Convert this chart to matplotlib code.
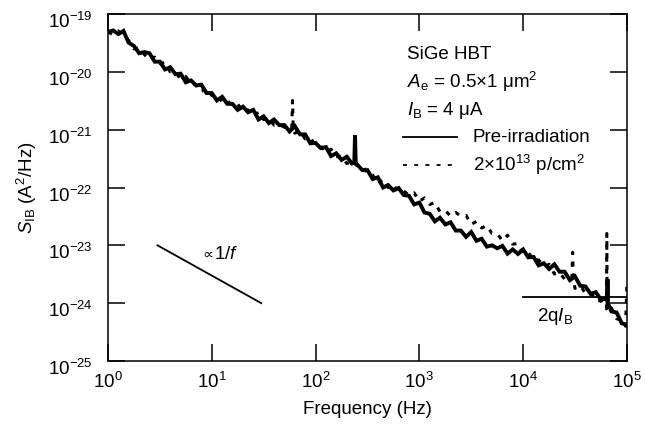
# -*- coding: utf-8 -*-
"""
SiGe HBT base current noise spectrum (pre-irradiation vs 2x10^13 p/cm^2)
"""
import matplotlib
matplotlib.use('Agg')
import matplotlib.pyplot as plt
from matplotlib.ticker import LogLocator, NullLocator
from matplotlib.transforms import ScaledTranslation

plt.rcParams['font.family'] = ['Liberation Sans', 'DejaVu Sans']
plt.rcParams['mathtext.fontset'] = 'custom'
plt.rcParams['mathtext.rm'] = 'Liberation Sans'
plt.rcParams['mathtext.it'] = 'Liberation Sans:italic'
plt.rcParams['mathtext.bf'] = 'Liberation Sans:bold'

# pre-irradiation spectrum (Hz, A^2/Hz)
freq_pre = [1, 1.12, 1.26, 1.41, 1.58, 1.78, 2.0, 2.24, 2.51, 2.82, 3.16, 3.55, 3.98, 4.47, 5.01, 5.62, 6.31, 7.08, 7.94, 8.91,
            10, 11.2, 12.6, 14.1, 15.8, 17.8, 20, 22.4, 25.1, 28.2, 31.6, 35.5, 39.8, 44.7, 50.1, 56.2, 63.1, 70.8, 79.4, 89.1,
            100, 112, 126, 141, 158, 178, 200, 224, 236, 240, 244, 251, 282, 316, 355, 398, 447, 501, 562, 631, 708, 794, 891,
            1000, 1120, 1260, 1410, 1580, 1780, 2000, 2240, 2510, 2820, 3160, 3550, 3980, 4470, 5010, 5620, 6310, 7080, 7940, 8910,
            10000, 11200, 12600, 14100, 15800, 17800, 20000, 22400, 25100, 28200, 31600, 35500, 39800, 44700, 50100, 56200, 63100,
            64500, 65000, 65500, 70800, 79400, 89100, 100000]
sib_pre = [4.9e-20, 5.2e-20, 4.5e-20, 5.1e-20, 3.2e-20, 2.8e-20, 2.1e-20, 2.2e-20, 2.1e-20, 1.5e-20,
           1.5e-20, 1.1e-20, 1.2e-20, 9.1e-21, 9.3e-21, 6.6e-21, 7.1e-21, 5.8e-21, 6.0e-21, 4.3e-21,
           4.3e-21, 3.2e-21, 3.7e-21, 2.8e-21, 2.8e-21, 2.2e-21, 2.5e-21, 2.0e-21, 2.2e-21, 1.5e-21,
           1.7e-21, 1.3e-21, 1.5e-21, 1.2e-21, 1.2e-21, 9.3e-22, 1.15e-21, 8.3e-22, 8.3e-22, 5.8e-22,
           5.9e-22, 4.8e-22, 5.0e-22, 3.5e-22, 3.9e-22, 3.0e-22, 3.4e-22, 2.6e-22,
           2.7e-22, 8.0e-22, 2.6e-22,
           2.5e-22, 2.0e-22, 2.0e-22, 1.4e-22, 1.5e-22, 1.0e-22, 1.1e-22, 8.9e-23, 9.8e-23, 7.4e-23, 7.2e-23, 5.1e-23,
           5.5e-23, 3.7e-23, 3.5e-23, 2.6e-23, 3.0e-23, 2.3e-23, 2.5e-23, 1.8e-23, 1.8e-23, 1.4e-23,
           1.7e-23, 1.2e-23, 1.3e-23, 9.5e-24, 1.0e-23, 8.9e-24, 9.8e-24, 7.2e-24, 8.5e-24, 7.1e-24,
           8.5e-24, 6.2e-24, 6.3e-24, 4.5e-24, 4.9e-24, 3.9e-24, 4.7e-24, 3.5e-24, 3.5e-24, 2.5e-24,
           2.9e-24, 2.0e-24, 1.95e-24, 1.45e-24, 1.55e-24, 1.15e-24, 1.2e-24,
           1.1e-24, 2.6e-24, 1.0e-24,
           7.2e-25, 6.9e-25, 4.5e-25, 4.2e-25]

# after 2x10^13 p/cm^2
freq_irr = [1, 1.12, 1.26, 1.41, 1.58, 1.78, 2.0, 2.24, 2.51, 2.82, 3.16, 3.55, 3.98, 4.47, 5.01, 5.62, 6.31, 7.08, 7.94, 8.91,
            10, 11.2, 12.6, 14.1, 15.8, 17.8, 20, 22.4, 25.1, 28.2, 31.6, 35.5, 39.8, 44.7, 50.1, 56.2, 59, 60, 61,
            63.1, 70.8, 79.4, 89.1, 100, 112, 126, 141, 158, 178, 200, 224, 251, 282, 316, 355, 398, 447, 501,
            562, 631, 708, 794, 891, 1000, 1120, 1260, 1410, 1580, 1780, 2000, 2240, 2510, 2820, 3160, 3550, 3980, 4470,
            5010, 5620, 6310, 7080, 7940, 8910,
            10000, 11200, 12600, 14100, 15800, 17800, 20000, 22400, 25100, 28200, 29500, 30000, 30500,
            31600, 35500, 39800, 44700, 50100, 56200, 63100, 63500, 64000, 64500, 70800, 79400, 89100, 97000, 100000]
sib_irr = [4.9e-20, 4.4e-20, 5.1e-20, 4.1e-20, 3.5e-20, 2.5e-20, 2.6e-20, 2.0e-20, 1.6e-20, 1.8e-20,
           1.4e-20, 1.45e-20, 1.0e-20, 1.0e-20, 7.4e-21, 8.3e-21, 6.2e-21, 6.0e-21, 4.6e-21, 5.1e-21,
           3.9e-21, 4.2e-21, 3.0e-21, 3.2e-21, 2.6e-21, 2.75e-21, 2.1e-21, 2.2e-21, 1.7e-21, 2.0e-21,
           1.5e-21, 1.6e-21, 1.2e-21, 1.23e-21, 1.1e-21, 1.23e-21,
           1.1e-21, 3.2e-21, 1.0e-21,
           8.7e-22, 9.5e-22, 6.9e-22, 7.2e-22, 5.4e-22, 5.2e-22, 4.0e-22, 4.6e-22, 3.4e-22, 3.5e-22,
           2.6e-22, 2.8e-22, 2.4e-22, 2.5e-22, 1.7e-22, 1.65e-22, 1.15e-22, 1.4e-22, 1.0e-22,
           1.1e-22, 8.3e-23, 8.7e-23, 7.4e-23, 8.1e-23, 5.8e-23, 6.6e-23, 5.1e-23, 5.5e-23, 3.8e-23,
           4.0e-23, 3.2e-23, 3.7e-23, 3.2e-23, 3.3e-23, 2.3e-23, 2.6e-23, 2.0e-23, 2.2e-23, 1.6e-23,
           1.6e-23, 1.2e-23, 1.5e-23, 1.05e-23, 1.07e-23,
           7.2e-24, 7.6e-24, 5.5e-24, 5.6e-24, 4.3e-24, 4.7e-24, 3.2e-24, 3.4e-24, 2.6e-24, 2.75e-24,
           2.7e-24, 7.6e-24, 2.6e-24,
           1.8e-24, 2.0e-24, 1.5e-24, 1.55e-24, 1.1e-24, 1.1e-24, 8.1e-25,
           8.0e-25, 1.6e-23, 8.0e-25,
           8.3e-25, 5.4e-25, 5.0e-25, 4.0e-25, 2.2e-24]

# guide lines
slope_f = [3, 30]
slope_s = [1e-23, 1e-24]
q = 1.602e-19
I_B = 4e-6
shot_f = [1e4, 1e5]
shot_level = 2 * q * I_B

FS = 13.5

fig = plt.figure(figsize=(6.45, 4.38), dpi=100)
ax = fig.add_axes([0.1674, 0.1758, 0.8046, 0.7922])

ax.plot(freq_pre, sib_pre, color='black', lw=2.8, solid_joinstyle='miter')
ax.plot(freq_irr, sib_irr, color='black', lw=2.2, dashes=(1.5, 2.4))

ax.plot(slope_f, slope_s, color='black', lw=1.3)
ax.text(10.4, 6.9e-24, '∝', fontsize=11, ha='right', va='center', family=['DejaVu Sans'])
ax.text(10.6, 6.9e-24, r'1/$f$', fontsize=FS, ha='left', va='center')
ax.plot(shot_f, [shot_level, shot_level], color='black', lw=1.3)
ax.text(13600, 5.8e-25, r'2q$I_{\rm B}$', fontsize=FS, ha='left', va='center')

ax.set_xscale('log')
ax.set_yscale('log')
ax.set_xlim(1, 1e5)
ax.set_ylim(1e-25, 1e-19)
ax.xaxis.set_major_locator(LogLocator(base=10, numticks=10))
ax.yaxis.set_major_locator(LogLocator(base=10, numticks=10))
ax.xaxis.set_minor_locator(NullLocator())
ax.yaxis.set_minor_locator(NullLocator())
ax.tick_params(which='major', direction='in', length=12, width=1.1,
               top=True, right=True, labelsize=FS)
ax.tick_params(axis='x', pad=8)
ax.tick_params(axis='y', pad=11)
for s in ax.spines.values():
    s.set_linewidth(1.1)

ax.set_xlabel('Frequency (Hz)', fontsize=FS, labelpad=6)
ax.set_ylabel(r'$S_{\rm IB}$ (A$^2$/Hz)', fontsize=FS, labelpad=6)

# legend block
tx = 0.576
ax.text(tx, 0.882, 'SiGe HBT', transform=ax.transAxes, fontsize=FS, va='center')
ax.text(tx, 0.804, r'$A_{\rm e}$ = 0.5×1 μm$^2$', transform=ax.transAxes, fontsize=FS, va='center')
ax.text(tx, 0.723, r'$I_{\rm B}$ = 4 μA', transform=ax.transAxes, fontsize=FS, va='center')
ax.plot([0.568, 0.672], [0.645, 0.645], transform=ax.transAxes, color='black', lw=1.3)
ax.plot([0.568, 0.672], [0.565, 0.565], transform=ax.transAxes, color='black', lw=1.3, dashes=(2.2, 4.0))
ax.text(0.703, 0.645, 'Pre-irradiation', transform=ax.transAxes, fontsize=FS, va='center')
ax.text(0.703, 0.565, r'2×10$^{13}$ p/cm$^2$', transform=ax.transAxes, fontsize=FS, va='center')

# y tick labels sit a few pixels below their ticks in the original
fig.canvas.draw()
shift = ScaledTranslation(0, -6 / 100, fig.dpi_scale_trans)
for tick in ax.yaxis.get_major_ticks():
    tick.label1.set_transform(tick.label1.get_transform() + shift)

plt.savefig('out.png', dpi=100)
